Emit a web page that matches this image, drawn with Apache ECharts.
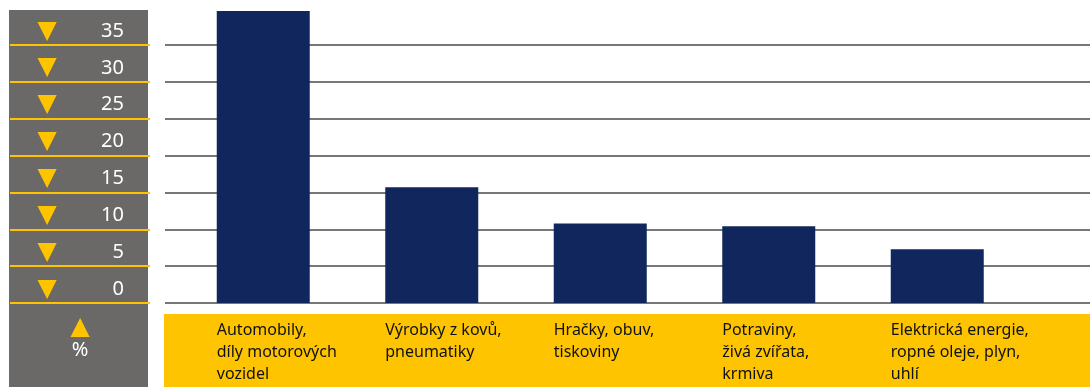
<!DOCTYPE html>
<html>
<head>
<meta charset="utf-8">
<script src="https://cdn.jsdelivr.net/npm/echarts@6/dist/echarts.min.js"></script>
<style>
html,body{margin:0;padding:0;background:#fff;}
#c{width:1090px;height:387px;}
</style>
</head>
<body>
<div id="c"></div>
<script>
// Data
var categories = [
  "Automobily,\ndíly motorových\nvozidel",
  "Výrobky z kovů,\npneumatiky",
  "Hračky, obuv,\ntiskoviny",
  "Potraviny,\nživá zvířata,\nkrmiva",
  "Elektrická energie,\nropné oleje, plyn,\nuhlí"
];
var values = [39.6, 15.7, 10.8, 10.4, 7.3];
var yTicks = [0, 5, 10, 15, 20, 25, 30, 35];
var unitLabel = "%";

var FONT = "Noto Sans";
var chart = echarts.init(document.getElementById('c'), null, {renderer: 'canvas'});
var option = {
  animation: false,
  backgroundColor: '#ffffff',
  graphic: [
    {type: 'rect', z: -10, shape: {x: 9, y: 10, width: 139, height: 377}, style: {fill: '#6b6967'}},
    {type: 'rect', z: -10, shape: {x: 164, y: 314, width: 926, height: 73}, style: {fill: '#fec400'}}
  ],
  grid: [
    {left: 165, right: 0, top: 45, bottom: 84},
    {left: 10, width: 140, top: 45, bottom: 84},
    {left: 179, width: 842.5, top: 45, bottom: 84}
  ],
  xAxis: [
    {gridIndex: 0, type: 'value', show: false},
    {gridIndex: 1, type: 'value', min: 0, max: 1,
     axisLine: {show: false}, axisTick: {show: false}, axisLabel: {show: false}, splitLine: {show: false},
     name: '{t|▲}\n{p|' + unitLabel + '}', nameLocation: 'middle', nameGap: 12,
     nameTextStyle: {verticalAlign: 'top', rich: {
       t: {color: '#fec400', fontSize: 25, fontFamily: 'DejaVu Sans', lineHeight: 24},
       p: {color: '#ffffff', fontSize: 20, fontFamily: FONT, lineHeight: 22}
     }}},
    {gridIndex: 2, type: 'category', data: categories,
     axisLine: {show: false}, axisTick: {show: false},
     axisLabel: {margin: 16, interval: 0, align: 'center', verticalAlign: 'top',
       formatter: function (v) {
         return v.split('\n').map(function (l) { return '{a|' + l + '}'; }).join('\n');
       },
       rich: {a: {width: 93, align: 'left', fontFamily: FONT, fontSize: 16, lineHeight: 22, color: '#111111'}}
     }}
  ],
  yAxis: [
    {gridIndex: 0, type: 'value', min: 0, max: 35, interval: 5,
     axisLine: {show: false}, axisTick: {show: false}, axisLabel: {show: false},
     splitLine: {show: true, lineStyle: {color: '#777777', width: 2}}},
    {gridIndex: 1, type: 'value', min: 0, max: 35, interval: 5,
     axisLine: {show: false}, axisTick: {show: false},
     splitLine: {show: true, lineStyle: {color: '#fec400', width: 2}},
     axisLabel: {inside: true, margin: 12, align: 'left', verticalAlign: 'bottom',
       showMinLabel: true, showMaxLabel: true,
       formatter: function (v) { return yTicks.indexOf(v) >= 0 ? '{t|▼}{v|' + v + '}' : ''; },
       rich: {
         t: {width: 50, align: 'center', color: '#fec400', fontFamily: 'DejaVu Sans', fontSize: 25, lineHeight: 28},
         v: {width: 52, align: 'right', color: '#ffffff', fontFamily: FONT, fontSize: 20, lineHeight: 28}
       }}},
    {gridIndex: 2, type: 'value', min: 0, max: 35, interval: 5, show: false}
  ],
  series: [
    {type: 'bar', xAxisIndex: 2, yAxisIndex: 2, data: values, barWidth: 93, clip: false,
     itemStyle: {color: '#10265c'}}
  ]
};
chart.setOption(option);
</script>
</body>
</html>
